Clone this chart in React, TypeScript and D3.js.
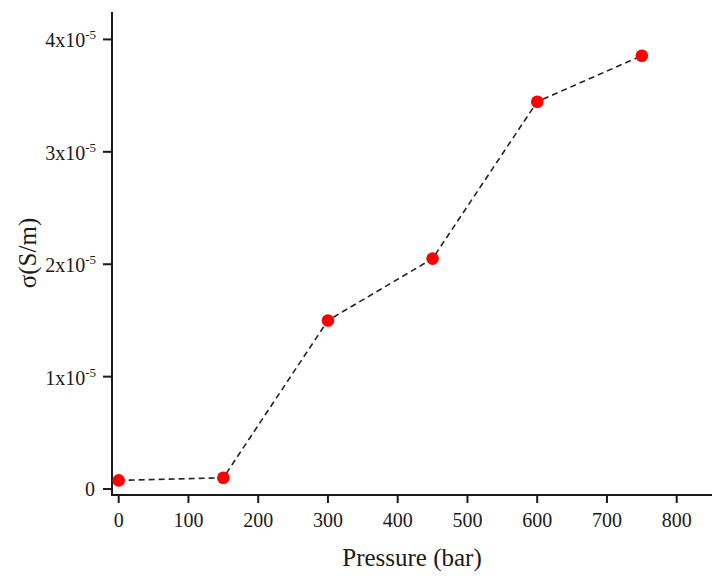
import * as d3 from 'd3'

// pressure (bar) vs conductivity (S/m)
const pressures = [0, 150, 300, 450, 600, 750]
const sigma = [0.077e-5, 0.1e-5, 1.5e-5, 2.05e-5, 3.446e-5, 3.855e-5]

const xTicks = [0, 100, 200, 300, 400, 500, 600, 700, 800]
const yTicks = [0, 1e-5, 2e-5, 3e-5, 4e-5]
const yTickMantissa = ['0', '1', '2', '3', '4']

const width = 727
const height = 579
const margin = { left: 112, right: 15, top: 12, bottom: 84 }

const serif = 'Liberation Serif'
const ink = '#1a1a1a'

const App = () => {
  const x = d3
    .scaleLinear()
    .domain([-9.6, 850.6])
    .range([margin.left, width - margin.right])

  const y = d3
    .scaleLinear()
    .domain([-0.053e-5, 4.244e-5])
    .range([height - margin.bottom, margin.top])

  const points = pressures.map((p, i) => ({ p, s: sigma[i] }))

  const line = d3
    .line<{ p: number; s: number }>()
    .x((d) => x(d.p))
    .y((d) => y(d.s))

  const x0 = margin.left
  const yBase = height - margin.bottom

  return (
    <svg
      width={width}
      height={height}
      style={{ position: 'absolute', left: 0, top: 0, background: '#fff', fontFamily: serif }}
    >
      {/* y axis */}
      <line x1={x0} x2={x0} y1={margin.top} y2={yBase + 1} stroke={ink} strokeWidth={2} />
      {yTicks.map((t, i) => (
        <g key={t} transform={`translate(0,${y(t)})`}>
          <line x1={x0 - 9} x2={x0} stroke={ink} strokeWidth={2} />
          {i === 0 ? (
            <text x={x0 - 17} y={7} textAnchor="end" fontSize={20} fill={ink} style={{ fontFamily: serif }}>
              0
            </text>
          ) : (
            <text x={x0 - 16} y={8} textAnchor="end" fontSize={20} fill={ink} style={{ fontFamily: serif }}>
              {yTickMantissa[i]}x10
              <tspan fontSize={13} dy={-8}>
                -5
              </tspan>
            </text>
          )}
        </g>
      ))}

      {/* x axis */}
      <line x1={x0 - 1} x2={width - margin.right} y1={yBase} y2={yBase} stroke={ink} strokeWidth={2} />
      {xTicks.map((t) => (
        <g key={t} transform={`translate(${x(t)},${yBase})`}>
          <line y1={0} y2={8} stroke={ink} strokeWidth={2} />
          <text y={32} textAnchor="middle" fontSize={20} fill={ink} style={{ fontFamily: serif }}>
            {t}
          </text>
        </g>
      ))}

      {/* axis titles */}
      <text
        x={(x0 + width - margin.right) / 2}
        y={566}
        textAnchor="middle"
        fontSize={25}
        fill={ink}
        style={{ fontFamily: serif }}
      >
        Pressure (bar)
      </text>
      <text
        transform={`translate(36,253) rotate(-90)`}
        textAnchor="middle"
        fontSize={25}
        fill={ink}
        style={{ fontFamily: serif }}
      >
        σ(S/m)
      </text>

      {/* data */}
      <path
        d={line(points) ?? ''}
        fill="none"
        stroke="#222"
        strokeWidth={1.6}
        strokeDasharray="6 4"
      />
      {points.map((d) => (
        <circle key={d.p} cx={x(d.p)} cy={y(d.s)} r={6.3} fill="#ff0000" />
      ))}
    </svg>
  )
}

export default App
